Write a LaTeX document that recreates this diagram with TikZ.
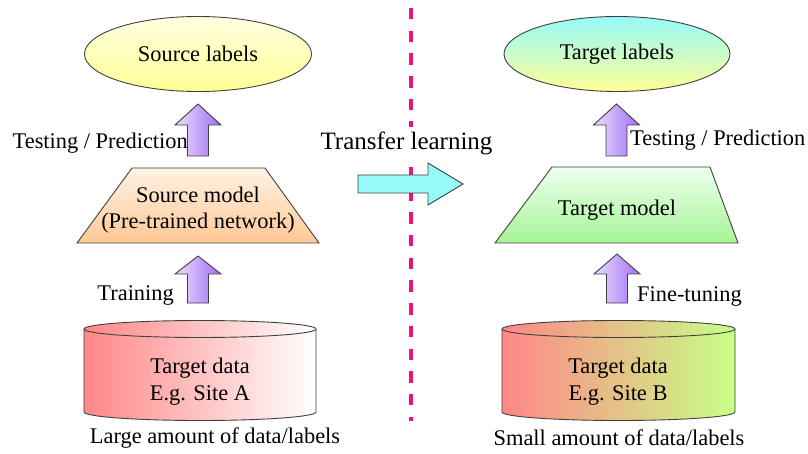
\documentclass[tikz,border=0pt]{standalone}
\usepackage{fontspec}
\setmainfont{Liberation Serif}
\usetikzlibrary{shapes.geometric}
\definecolor{edge}{rgb}{0.25,0.25,0.25}
\definecolor{lav}{RGB}{236,222,255}
\definecolor{vio}{RGB}{160,110,245}
\definecolor{pinkline}{RGB}{235,20,120}
\definecolor{cyanarrow}{RGB}{150,250,250}
\definecolor{redcyl}{RGB}{255,135,135}
\definecolor{greencyl}{RGB}{200,255,135}
\definecolor{tancyl}{RGB}{228,180,140}
\tikzset{
  lbl/.style={font=\fontsize{22.4}{25}\selectfont, inner sep=0pt},
  outline/.style={draw=edge, line width=0.9pt},
  uparrow/.style={outline, left color=lav, right color=vio},
}
\newcommand{\UpArrow}[4]{% center x, bottom y, tip y, head base y
  \path[uparrow] (#1-10.5,#2) -- (#1-10.5,#4) -- (#1-23,#4) -- (#1,#3) -- (#1+23,#4) -- (#1+10.5,#4) -- (#1+10.5,#2) -- cycle;}
\begin{document}
\begin{tikzpicture}[x=1pt,y=1pt]
\useasboundingbox (0,0) rectangle (808,-454);
\fill[white] (0,0) rectangle (808,-454);

% dashed separator
\draw[pinkline, line width=3.5pt, dash pattern=on 11.5pt off 11.2pt] (411,-8) -- (411,-421);

% top label ellipses
\node[ellipse, outline, minimum width=227pt, minimum height=75pt, top color={rgb,255:red,255;green,255;blue,225}, bottom color={rgb,255:red,255;green,255;blue,150}] (srclab) at (198,-54) {};
\node[lbl] at (srclab) {Source labels};
\node[ellipse, outline, minimum width=226pt, minimum height=75pt, top color={rgb,255:red,150;green,250;blue,250}, bottom color={rgb,255:red,255;green,255;blue,150}] (tgtlab) at (617,-54) {};
\node[lbl] at (tgtlab) {Target labels};

% trapezia
\path[outline, top color={rgb,255:red,255;green,242;blue,228}, bottom color={rgb,255:red,255;green,200;blue,150}]
  (132,-168) -- (265,-168) -- (319,-243) -- (77,-243) -- cycle;
\node[lbl] (srcmod) at (198,-195) {Source model};
\node[lbl] (srcmod2) at (198,-223) {(Pre-trained network)};
\path[outline, top color={rgb,255:red,238;green,255;blue,238}, bottom color={rgb,255:red,165;green,245;blue,150}]
  (552,-167) -- (710,-167) -- (738,-243) -- (495,-243) -- cycle;
\node[lbl] (tgtmod) at (617,-210) {Target model};

% cylinders
\path[outline, left color=redcyl, right color=white]
  (84,-329) -- (84,-412) arc[start angle=180, end angle=360, x radius=116pt, y radius=8.5pt] -- (316,-329)
  arc[start angle=0, end angle=180, x radius=116pt, y radius=8.5pt] -- cycle;
\draw[edge, line width=0.9pt] (84,-329) arc[start angle=180, end angle=360, x radius=116pt, y radius=8.5pt];
\node[lbl] (srcdata) at (200,-368) {Target data};
\node[lbl] (srcsite) at (200,-395) {E.g. Site A};
\node[lbl] (srcamt) at (215,-438) {Large amount of data/labels};

\path[outline, left color=redcyl, middle color=tancyl, right color=greencyl]
  (502,-329) -- (502,-412) arc[start angle=180, end angle=360, x radius=116.5pt, y radius=8.5pt] -- (735,-329)
  arc[start angle=0, end angle=180, x radius=116.5pt, y radius=8.5pt] -- cycle;
\draw[edge, line width=0.9pt] (502,-329) arc[start angle=180, end angle=360, x radius=116.5pt, y radius=8.5pt];
\node[lbl] (tgtdata) at (618,-368) {Target data};
\node[lbl] (tgtsite) at (618,-395) {E.g. Site B};
\node[lbl] (tgtamt) at (619,-438) {Small amount of data/labels};

% up arrows
\UpArrow{198}{-156}{-104}{-125}
\UpArrow{616.5}{-156}{-104}{-125}
\UpArrow{198}{-303}{-256}{-274}
\UpArrow{617}{-303}{-254}{-274}

\node[lbl, anchor=east] (srctest) at (188,-143) {Testing / Prediction};
\node[lbl, anchor=west] (tgttest) at (630,-140) {Testing / Prediction};
\node[lbl, anchor=east] (train) at (174,-296) {Training};
\node[lbl, anchor=west] (fine) at (637,-297) {Fine-tuning};

% transfer arrow
\path[outline, fill=cyanarrow] (358,-175) -- (428,-175) -- (428,-163) -- (463,-184) -- (428,-205) -- (428,-193) -- (358,-193) -- cycle;
\node[lbl, font=\fontsize{25}{28}\selectfont, fill=white, inner ysep=4pt] (transfer) at (406.5,-143) {Transfer learning};
\end{tikzpicture}
\end{document}
